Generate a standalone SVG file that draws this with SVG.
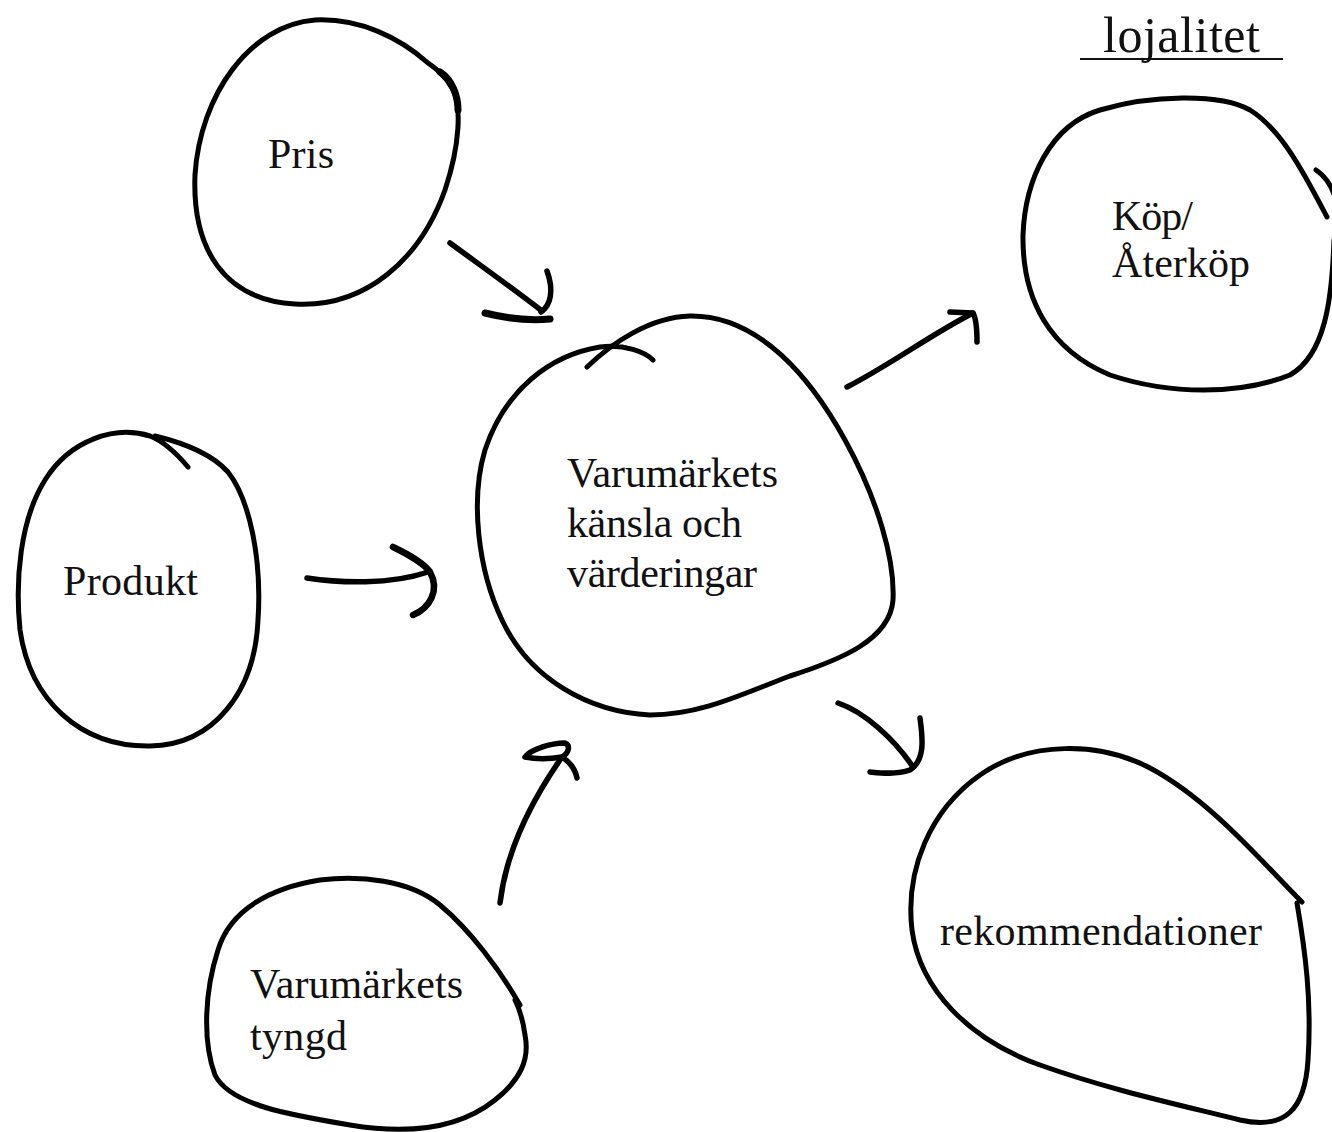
<svg xmlns="http://www.w3.org/2000/svg" width="1332" height="1132" viewBox="0 0 1332 1132">
<style>
.blob{fill:none;stroke:#000;stroke-width:5;stroke-linecap:round;stroke-linejoin:round}
.arr{fill:none;stroke:#000;stroke-width:5.5;stroke-linecap:round;stroke-linejoin:round}
.t{font-family:"Liberation Serif","DejaVu Serif",serif;font-size:42px;fill:#111}
</style>
<rect width="1332" height="1132" fill="#fff"/>
<g id="title">
<text class="t" x="1103" y="52" style="font-size:50px" textLength="157">lojalitet</text>
<line x1="1080" y1="59" x2="1283" y2="59" stroke="#111" stroke-width="2"/>
</g>
<g id="node-pris">
<path class="blob" d="M 428,63 C 400,38 360,18 315,20 C 250,25 200,95 195,175 C 192,250 225,300 295,304 C 365,308 420,260 445,190 C 460,145 462,105 452,88 C 445,75 435,68 428,63"/>
<path class="blob" d="M 440,72 C 452,80 458,95 458,110" style="stroke-width:7"/>
<text class="t" x="268" y="168" textLength="66">Pris</text>
</g>
<g id="node-produkt">
<path class="blob" d="M 188,467 C 178,455 165,442 150,436 C 115,425 70,440 45,480 C 20,520 15,580 20,630 C 30,700 80,747 150,746 C 215,745 255,690 258,620 C 262,560 250,500 228,472 C 210,452 180,442 155,436"/>
<text class="t" x="63" y="595" textLength="135">Produkt</text>
</g>
<g id="node-center">
<path class="blob" d="M 587,367 C 612,343 650,317 690,316 C 760,315 812,380 845,440 C 878,500 895,560 893,600 C 890,640 840,660 790,676 C 740,695 700,715 650,715 C 590,712 530,680 502,620 C 478,570 470,500 485,450 C 505,390 550,355 600,347 C 625,344 645,352 653,360"/>
<text class="t" x="567" y="487" textLength="211">Varumärkets</text>
<text class="t" x="567" y="537" textLength="175">känsla och</text>
<text class="t" x="567" y="587" textLength="190">värderingar</text>
</g>
<g id="node-kop">
<path class="blob" d="M 1327,217 C 1305,175 1282,130 1250,110 C 1220,93 1150,95 1100,110 C 1050,125 1025,180 1023,235 C 1022,300 1050,350 1110,375 C 1170,395 1240,395 1290,375 C 1325,355 1332,300 1334,240"/>
<path class="blob" d="M 1316,170 C 1325,176 1332,186 1336,200"/>
<text class="t" x="1112" y="230" textLength="81">Köp/</text>
<text class="t" x="1112" y="277" textLength="138">Återköp</text>
</g>
<g id="node-rek">
<path class="blob" d="M 1302,902 C 1260,860 1210,800 1150,768 C 1100,742 1030,740 980,775 C 930,810 905,870 912,930 C 920,990 970,1040 1040,1065 C 1110,1090 1180,1105 1240,1120 C 1285,1130 1305,1110 1308,1060 C 1312,1000 1305,950 1297,903"/>
<text class="t" x="940" y="945" textLength="322">rekommendationer</text>
</g>
<g id="node-tyngd">
<path class="blob" d="M 520,1005 C 500,970 470,930 440,905 C 410,880 360,875 320,880 C 270,888 230,910 218,950 C 205,990 202,1040 215,1075 C 230,1105 290,1115 350,1125 C 410,1135 460,1128 495,1100 C 520,1080 530,1060 525,1035 C 523,1020 520,1010 515,1000"/>
<text class="t" x="250" y="998" textLength="213">Varumärkets</text>
<text class="t" x="250" y="1050" textLength="97">tyngd</text>
</g>
<g id="connectors">
<path class="arr" d="M 450,243 C 480,265 515,290 542,311"/>
<path class="arr" d="M 547,271 C 554,290 551,305 541,312"/>
<path class="arr" d="M 485,313 C 505,318 530,321 550,319" style="stroke-width:7"/>
<path class="arr" d="M 307,578 C 340,583 390,585 428,572"/>
<path class="arr" d="M 393,547 C 410,555 425,565 430,572 C 440,590 430,608 413,615" style="stroke-width:6.5"/>
<path class="arr" d="M 500,903 C 505,860 525,810 562,757"/>
<path class="arr" d="M 577,778 C 575,768 570,762 562,757 C 570,752 570,745 565,743 C 550,743 530,750 525,757 C 535,759 550,759 562,757"/>
<path class="arr" d="M 847,387 C 890,365 930,335 973,313"/>
<path class="arr" d="M 950,312 L 973,313 C 977,320 977,332 977,342"/>
<path class="arr" d="M 838,703 C 865,712 895,740 913,767"/>
<path class="arr" d="M 920,718 C 923,740 925,760 910,770 C 895,775 880,773 870,772"/>
</g>
</svg>
